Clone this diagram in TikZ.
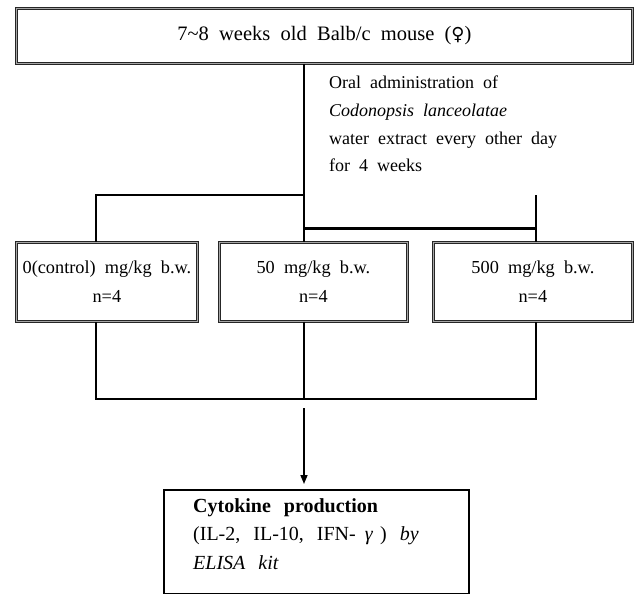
\documentclass[tikz,border=0pt]{standalone}
\usepackage{fontspec}
\setmainfont{Liberation Serif}
\newfontfamily\symfont{DejaVu Sans}
\usetikzlibrary{arrows.meta}
\begin{document}
\begin{tikzpicture}[x=1pt,y=-1pt,
  dbox/.style={draw=black!85, double=black!35, line width=0.8pt, double distance=1pt, inner sep=0pt, anchor=north west},
  sbox/.style={draw=black, line width=1.5pt, inner sep=0pt, anchor=north west},
  conn/.style={line width=1.8pt, draw=black},
  thickconn/.style={line width=3pt, draw=black},
  arr/.style={line width=1.5pt, draw=black, -{Triangle[length=9pt,width=7pt]}},
  ttl/.style={font={\fontsize{20.5}{24}\selectfont\spaceskip=0.5em\relax}},
  sidetxt/.style={font={\fontsize{18}{27.7}\selectfont\spaceskip=0.5em\relax}, align=left, inner sep=0pt, anchor=north west},
  grp/.style={font={\fontsize{18.3}{29}\selectfont\spaceskip=0.5em\relax}, align=center},
  res/.style={font={\fontsize{20}{28.5}\selectfont\spaceskip=0.65em\relax}, align=left, inner sep=0pt, anchor=north west}
]
\useasboundingbox (0,0) rectangle (635,594);
\fill[white] (0,0) rectangle (635,594);

% top box
\node[dbox, minimum width=616pt, minimum height=55pt, ttl] (top) at (16,8) {7\textasciitilde 8 weeks old Balb/c mouse ({\symfont\fontsize{18}{20}\selectfont ♀})};

% side text
\node[sidetxt] (oral) at (329,76) {Oral administration of\\ \textit{Codonopsis lanceolatae}\\ water extract every other day\\ for 4 weeks};

% group boxes
\node[dbox, minimum width=181pt, minimum height=79pt, grp] (b1) at (16,242) {0(control) mg/kg b.w.\\ n=4};
\node[dbox, minimum width=188pt, minimum height=79pt, grp] (b2) at (219,242) {50 mg/kg b.w.\\ n=4};
\node[dbox, minimum width=199pt, minimum height=79pt, grp] (b3) at (433,242) {500 mg/kg b.w.\\ n=4};

% result box
\node[sbox, minimum width=305pt, minimum height=104pt] (bot) at (163,489) {};
\node[res] (restxt) at (193,498) {\textbf{Cytokine production}\\ (IL-2, IL-10, IFN-\hspace{0.45em}\textit{γ}\hspace{0.35em}) \textit{by}\\ \textit{ELISA kit}};

% junction coordinates
\coordinate (jL) at (96,195);
\coordinate (jC) at (304,195);
\coordinate (jR) at (536,195);
\coordinate (tC) at (304,228);
\coordinate (tR) at (536,228);
\coordinate (kL) at (96,399);
\coordinate (kC) at (304,399);
\coordinate (kR) at (536,399);
\coordinate (aS) at (304,408);

% connectors
\draw[conn] (top.south -| jC) -- (jC |- b2.north);
\draw[conn] (jC) -- (jL) -- (jL |- b1.north);
\draw[conn] (jR) -- (jR |- b3.north);
\draw[thickconn] (tC) -- (tR);
\draw[conn] (jL |- b1.south) -- (kL) -- (kR) -- (jR |- b3.south);
\draw[conn] (jC |- b2.south) -- (kC);
\draw[arr, shorten >=5pt] (aS) -- (aS |- bot.north);
\end{tikzpicture}
\end{document}
